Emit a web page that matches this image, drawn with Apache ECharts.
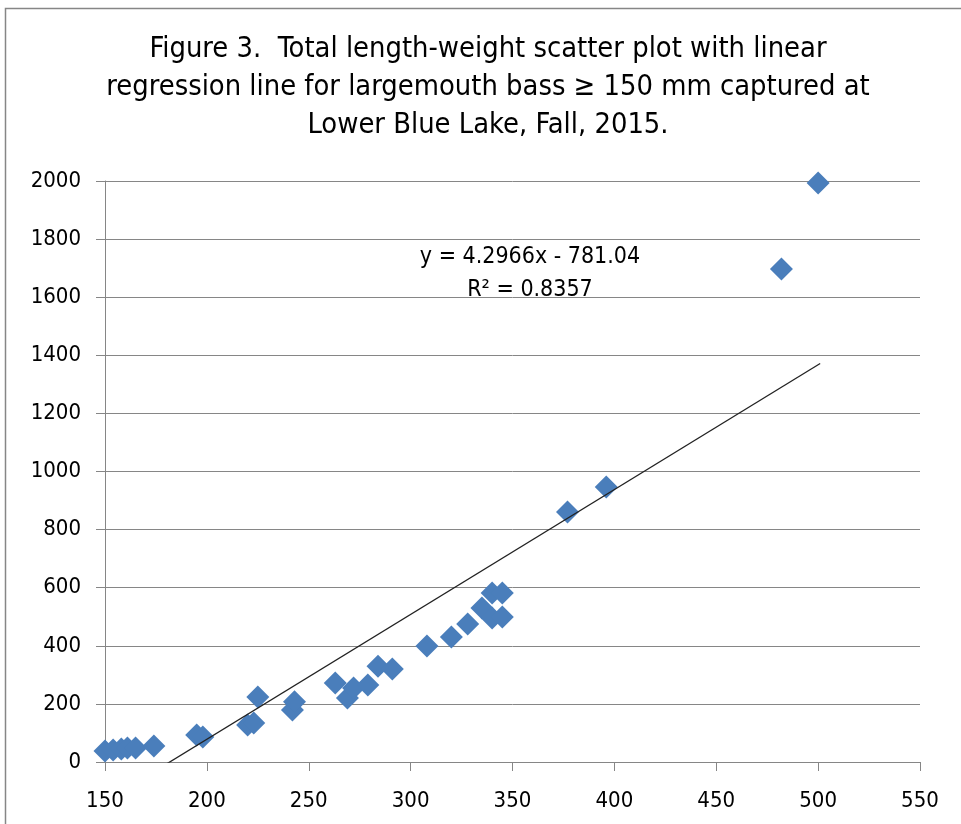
<!DOCTYPE html>
<html><head><meta charset="utf-8">
<script src="https://cdn.jsdelivr.net/npm/echarts@6/dist/echarts.min.js"></script>
<style>html,body{margin:0;padding:0;background:#fff}#c{width:961px;height:824px}</style>
</head><body><div id="c"></div>
<script>
const lengths = [150,154,158,161,165,174,195,198,220,223,225,242,243,263,269,272,279,284,291,308,320,328,335,340,345,340,345,377,396,482,500];
const weights = [38,41,45,48,48,55,93,86,127,134,224,179,207,272,220,255,265,330,320,399,430,475,530,582,582,496,499,861,947,1697,1993];
const slope = 4.2966, intercept = -781.04, r2 = 0.8357;
const trendX = [150, 501];
const xTicks = [150,200,250,300,350,400,450,500,550];
const yTicks = [0,200,400,600,800,1000,1200,1400,1600,1800,2000];
const titleText = 'Figure 3.  Total length-weight scatter plot with linear\nregression line for largemouth bass \u2265 150 mm captured at\nLower Blue Lake, Fall, 2015.';

const font = '"Liberation Sans Narrow","DejaVu Sans Condensed","Noto Sans",sans-serif';
const pts = lengths.map((x,i)=>[x,weights[i]]);
const trend = trendX.map(x=>[x, slope*x+intercept]);
const chart = echarts.init(document.getElementById('c'));
chart.setOption({
  animation:false,
  grid:{left:105,right:41,top:181,bottom:62},
  xAxis:{type:'value',min:150,max:550,interval:50,
    axisLine:{lineStyle:{color:'#868686',width:1}},
    axisTick:{show:true,length:9,lineStyle:{color:'#868686'}},
    splitLine:{show:false},
    axisLabel:{fontFamily:font,fontSize:22,color:'#000',margin:28}},
  yAxis:{type:'value',min:0,max:2000,interval:200,
    axisLine:{show:true,lineStyle:{color:'#868686',width:1}},
    axisTick:{show:true,length:9,lineStyle:{color:'#868686'}},
    splitLine:{show:true,lineStyle:{color:'#868686',width:1}},
    axisLabel:{fontFamily:font,fontSize:22,color:'#000',margin:24,formatter:v=>String(v)}},
  series:[
    {type:'line',data:trend,showSymbol:false,symbol:'none',clip:true,
     lineStyle:{color:'#222',width:1.3},z:3,silent:true},
    {type:'scatter',data:pts,symbol:'diamond',symbolSize:[23,23],
     itemStyle:{color:'#4A7EBB',opacity:1},z:2}
  ],
  graphic:[
    {type:'rect',shape:{x:5.5,y:8.5,width:1000,height:900},style:{fill:'none',stroke:'#868686',lineWidth:1.5},z:-1},
    {type:'text',x:488,y:31,style:{text:titleText,font:'28.8px '+font,fill:'#000',align:'center',lineHeight:38}},
    {type:'text',x:530,y:241,style:{text:'y = 4.2966x - 781.04\nR\u00b2 = 0.8357',font:'23px '+font,fill:'#000',align:'center',lineHeight:33}}
  ]
});
</script></body></html>
